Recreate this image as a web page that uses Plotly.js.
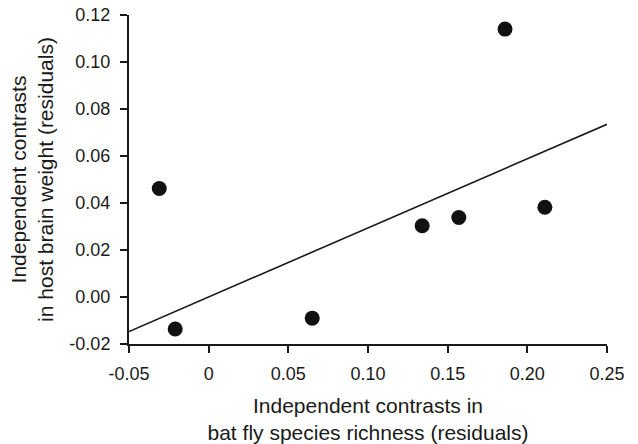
<!DOCTYPE html>
<html>
<head>
<meta charset="utf-8">
<script src="https://cdn.plot.ly/plotly-3.0.1.min.js"></script>
<style>html,body{margin:0;padding:0;background:#fff;}#chart{width:638px;height:444px;}</style>
</head>
<body>
<div id="chart"></div>
<script>
// Data
const batFlyRichness = [-0.031, -0.021, 0.065, 0.134, 0.157, 0.186, 0.211];
const brainWeight    = [0.0462, -0.0136, -0.0090, 0.0303, 0.0338, 0.114, 0.0382];
const fitX = [-0.05, 0.25];
const fitY = [-0.0147, 0.0735];
const xTickVals = [-0.05, 0, 0.05, 0.10, 0.15, 0.20, 0.25];
const xTickText = ["-0.05", "0", "0.05", "0.10", "0.15", "0.20", "0.25"];
const yTickVals = [-0.02, 0, 0.02, 0.04, 0.06, 0.08, 0.10, 0.12];
const yTickText = ["-0.02", "0.00", "0.02", "0.04", "0.06", "0.08", "0.10", "0.12"];

const fontFam = 'Arial, "Liberation Sans", Helvetica, sans-serif';
const ink = '#1a1a1a';

const traces = [
  {
    x: fitX, y: fitY, type: 'scatter', mode: 'lines',
    line: {color: ink, width: 1.6}, hoverinfo: 'skip', showlegend: false
  },
  {
    x: batFlyRichness, y: brainWeight, type: 'scatter', mode: 'markers',
    marker: {color: '#111', size: 15}, showlegend: false
  }
];

const layout = {
  width: 638, height: 444,
  margin: {l: 129, r: 31, t: 15, b: 100},
  paper_bgcolor: '#fff', plot_bgcolor: '#fff',
  font: {family: fontFam, color: ink},
  xaxis: {
    range: [-0.05, 0.25], tickvals: xTickVals, ticktext: xTickText,
    showgrid: false, zeroline: false, showline: true, linecolor: ink, linewidth: 2,
    ticks: 'outside', ticklen: 7, tickwidth: 2, tickcolor: ink,
    ticklabelstandoff: 5,
    tickfont: {size: 18, family: fontFam, color: ink},
    title: {text: 'Independent contrasts in<br>bat fly species richness (residuals)', font: {size: 21, family: fontFam, color: ink}, standoff: 18}
  },
  yaxis: {
    range: [-0.02, 0.12], tickvals: yTickVals, ticktext: yTickText,
    showgrid: false, zeroline: false, showline: true, linecolor: ink, linewidth: 2,
    ticks: 'outside', ticklen: 7, tickwidth: 2, tickcolor: ink,
    ticklabelstandoff: 6,
    tickfont: {size: 18, family: fontFam, color: ink},
    title: {text: 'Independent contrasts<br>in host brain weight (residuals)', font: {size: 21, family: fontFam, color: ink}, standoff: 10}
  }
};

Plotly.newPlot('chart', traces, layout, {displayModeBar: false, staticPlot: true});
</script>
</body>
</html>
